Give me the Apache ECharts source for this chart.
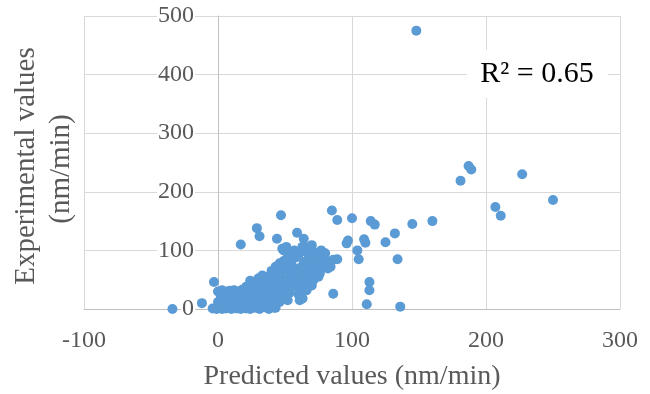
<!DOCTYPE html>
<html>
<head>
<meta charset="utf-8">
<script src="https://cdn.jsdelivr.net/npm/echarts@6/dist/echarts.min.js"></script>
<style>
html,body{margin:0;padding:0;background:#fff;}
#chart{width:650px;height:394px;}
</style>
</head>
<body>
<div id="chart"></div>
<script>
// Predicted (x) and experimental (y) values, nm/min
const predicted = [
  -34, -12, -3, 17, 29, 31, 47, 44, 59, 64, 70, 51, 48, 63, 77, 49, 54, 44, 46, 57, 64, 70, 71, 78, 80, 83, 86, 89, 82,
  85, 89, 100, 97, 96, 109, 110, 104, 105, 114, 117, 125, 132, 145, 160, 134, 113, 113, 111, 136, 86,
  148, 187, 189, 181, 227, 250, 207, 211,
  -4, -1, 1, 3, 5, 6, 8, 9, 10, 12, 13, 14, 16, 17, 18, 19, 20, 21, 22, 23, 24, 25, 26, 27, 28, 29, 30, 31, 32, 33,
  34, 35, 36, 37, 38, 39, 40, 41, 42, 43, 44, 45, 46, 47, 48, 49, 50, 51, 52, 53, 54, 55, 56, 57, 58, 59, 60, 61,
  62, 63, 64, 65, 66, 67, 68, 69, 70, 71, 72, 74, 76, 78,
  0, 3, 6, 9, 12, 15, 18, 21, 24, 27, 30, 33, 36, 40, 43, 46, 49, 52, 55, 57, 60, 63, 66, 69, 71, 74, 79,
  2, 4, 7, 10, 11, 15, 17, 20, 24, 26, 28, 30, 32, 34, 36, 38, 40, 42, 44, 46, 48, 50, 52, 54, 56, 58, 60, 62,
  65, 67, 70, 72, 75, 77, 80, 82,
  42, 48, 53, 61, 63, 66, 71, 76, 84, 61, 46,
  0, 4, 8, 12, 16, 20, 25, 29, 33, 37, 2, 7, 11, 15, 19, 23, 27, 31, 35, 39, 41
];
const experimental = [
  0, 10, 46, 110, 138, 124, 160, 120, 130, 120, 109, 106, 103, 106, 100, 100, 84, 66, 61, 55, 50, 66, 98, 95, 95, 72, 84, 85, 69,
  168, 152, 155, 117, 112, 119, 113, 100, 85, 150, 144, 114, 129, 145, 150, 85, 46, 32, 8, 4, 26,
  475, 244, 238, 219, 230, 186, 174, 159,
  1, 0, 3, 0, 6, 1, 2, 12, 0, 4, 20, 1, 8, 0, 15, 28, 3, 1, 10, 22, 0, 5, 14, 30, 2, 8, 19, 0, 40, 12,
  26, 3, 50, 18, 0, 33, 9, 45, 22, 2, 60, 30, 14, 40, 52, 21, 68, 35, 45, 27, 58, 75, 40, 50, 88, 62, 38, 70,
  55, 18, 80, 47, 32, 65, 90, 58, 75, 49, 85, 62, 70, 95,
  30, 32, 30, 31, 32, 30, 33, 38, 48, 45, 52, 57, 55, 65, 72, 78, 82, 88, 95, 100, 92, 98, 105, 100, 97, 92, 95,
  15, 22, 25, 18, 8, 14, 24, 18, 30, 38, 20, 30, 10, 42, 28, 38, 20, 50, 42, 25, 30, 50, 15, 35, 62, 45, 25, 65,
  72, 52, 40, 70, 55, 80, 85, 72,
  2, 21, 27, 38, 18, 32, 49, 61, 72, 15, 12,
  12, 10, 16, 26, 20, 6, 24, 12, 20, 10, 24, 16, 22, 25, 5, 14, 8, 36, 15, 24, 12
];
const xTicks = { min: -100, max: 300, interval: 100 };
const yTicks = { min: 0, max: 500, interval: 100 };
const xTitle = 'Predicted values (nm/min)';
const yTitleLines = ['Experimental values', '(nm/min)'];
const r2Label = 'R\u00B2 = 0.65';

const points = predicted.map((x, i) => [x, experimental[i]]);

const chart = echarts.init(document.getElementById('chart'), null, { renderer: 'canvas' });
const font = '"Liberation Serif", "Times New Roman", serif';
chart.setOption({
  animation: false,
  backgroundColor: '#ffffff',
  grid: { left: 84, right: 30, top: 16, bottom: 85, containLabel: false, outerBoundsMode: 'none' },
  xAxis: {
    type: 'value',
    min: xTicks.min, max: xTicks.max, interval: xTicks.interval,
    name: xTitle,
    nameLocation: 'middle',
    nameGap: 54,
    nameTextStyle: { fontFamily: font, fontSize: 28, color: '#595959' },
    axisLine: { show: true, onZero: true, lineStyle: { color: '#bfbfbf', width: 1 } },
    axisTick: { show: false },
    axisLabel: { fontFamily: font, fontSize: 24, color: '#595959', margin: 20 },
    splitLine: { show: true, lineStyle: { color: '#d9d9d9', width: 1 } }
  },
  yAxis: {
    type: 'value',
    min: yTicks.min, max: yTicks.max, interval: yTicks.interval,
    offset: -134,
    axisLine: { show: true, onZero: false, lineStyle: { color: '#bfbfbf', width: 1 } },
    axisTick: { show: false },
    axisLabel: { fontFamily: font, fontSize: 24, color: '#595959', margin: 23, backgroundColor: '#ffffff', padding: [0, 1, 0, 1] },
    splitLine: { show: true, lineStyle: { color: '#d9d9d9', width: 1 } }
  },
  graphic: [
    {
      type: 'group',
      left: 467, top: 50,
      z: 100,
      children: [
        { type: 'rect', z: 100, shape: { x: 0, y: 0, width: 141, height: 48 }, style: { fill: '#ffffff' } },
        { type: 'text', z: 101, x: 70, y: 24, style: { text: r2Label, font: '30px "Liberation Serif", serif', fill: '#000000', align: 'center', verticalAlign: 'middle' } }
      ]
    },
    {
      type: 'text', z: 100,
      x: 26, y: 166, rotation: Math.PI / 2,
      style: { text: yTitleLines[0], font: '29px "Liberation Serif", serif', fill: '#595959', align: 'center', verticalAlign: 'middle' }
    },
    {
      type: 'text', z: 100,
      x: 61, y: 169, rotation: Math.PI / 2,
      style: { text: yTitleLines[1], font: '29px "Liberation Serif", serif', fill: '#595959', align: 'center', verticalAlign: 'middle' }
    }
  ],
  series: [{
    type: 'scatter',
    data: points,
    symbol: 'circle',
    symbolSize: 10,
    itemStyle: { color: '#5b9bd5', opacity: 1 },
    z: 3
  }]
});
</script>
</body>
</html>
